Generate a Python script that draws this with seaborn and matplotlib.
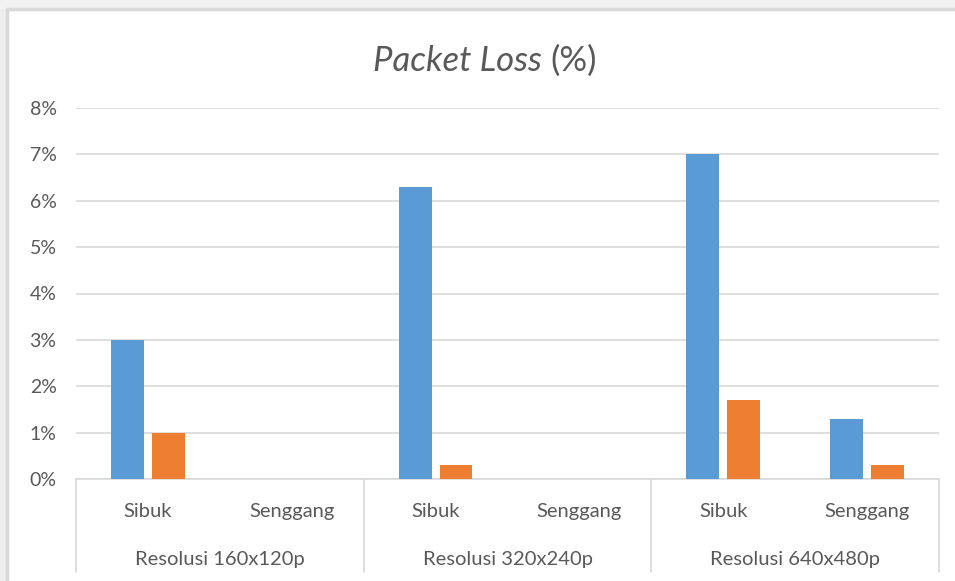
import matplotlib
matplotlib.use("Agg")
import matplotlib.pyplot as plt
import matplotlib.transforms as mtransforms
from matplotlib.patches import Rectangle
from matplotlib.ticker import FuncFormatter, MultipleLocator
import pandas as pd
import seaborn as sns

# ---- data -------------------------------------------------------------
resolutions = ["Resolusi 160x120p", "Resolusi 320x240p", "Resolusi 640x480p"]
conditions = ["Sibuk", "Senggang"]
series_names = ["Seri 1", "Seri 2"]
# packet loss in percent, ordered resolution -> condition
series_1 = [3.0, 0.0, 6.3, 0.0, 7.0, 1.3]
series_2 = [1.0, 0.0, 0.3, 0.0, 1.7, 0.3]

blue = "#5B9BD5"
orange = "#ED7D31"
text_gray = "#595959"
line_gray = "#D9D9D9"

rows = []
keys = []
i = 0
for res in resolutions:
    for cond in conditions:
        key = f"{res}|{cond}"
        keys.append(key)
        rows.append({"slot": key, "series": series_names[0], "value": series_1[i]})
        rows.append({"slot": key, "series": series_names[1], "value": series_2[i]})
        i += 1
df = pd.DataFrame(rows)

# ---- figure -----------------------------------------------------------
sns.set_theme(style="white")
plt.rcParams["font.family"] = ["Lato", "DejaVu Sans"]

W, H = 955, 581
fig = plt.figure(figsize=(W / 100, H / 100), dpi=100)
fig.patch.set_facecolor("white")
# light gray margin on the left and top, then the chart frame lines
fig.patches.append(Rectangle((0, 0), 7 / W, 1, transform=fig.transFigure,
                             facecolor="#EEEEEE", edgecolor="none", zorder=-6))
fig.patches.append(Rectangle((0, 1 - 9 / H), 1, 9 / H, transform=fig.transFigure,
                             facecolor="#F2F2F2", edgecolor="none", zorder=-6))
fig.add_artist(plt.Line2D([7 / W, 7 / W], [0, 1 - 9 / H], transform=fig.transFigure,
                          color=line_gray, linewidth=2.5, zorder=-5))
fig.add_artist(plt.Line2D([7 / W, 1], [1 - 9 / H, 1 - 9 / H], transform=fig.transFigure,
                          color=line_gray, linewidth=2.5, zorder=-5))

ax_left, ax_right = 76 / W, 939 / W
ax_bottom, ax_top = (H - 479) / H, (H - 108) / H
ax = fig.add_axes([ax_left, ax_bottom, ax_right - ax_left, ax_top - ax_bottom])
ax.set_zorder(2)
ax.set_facecolor("none")

sns.barplot(data=df, x="slot", y="value", hue="series", order=keys,
            hue_order=series_names, palette=[blue, orange], width=0.567,
            gap=0.195, saturation=1, legend=False, linewidth=0,
            ax=ax, zorder=3)

ax.set_ylim(0, 8)
ax.set_xlim(-0.5, len(keys) - 0.5)
ax.yaxis.set_major_locator(MultipleLocator(1))
ax.yaxis.set_major_formatter(FuncFormatter(lambda v, p: f"{v:.0f}%"))
ax.grid(axis="y", color=line_gray, linewidth=1.2, zorder=0)
ax.set_axisbelow(True)

for side in ["top", "right", "left"]:
    ax.spines[side].set_visible(False)
ax.spines["bottom"].set_color(line_gray)
ax.spines["bottom"].set_linewidth(1.2)

ax.set_xlabel("")
ax.set_ylabel("")
ax.set_xticks(range(len(keys)))
ax.set_xticklabels([k.split("|")[1] for k in keys])
ax.tick_params(axis="x", length=0, pad=17, labelsize=14.5, labelcolor=text_gray)
ax.tick_params(axis="y", length=0, pad=14, labelsize=14, labelcolor=text_gray)
for lbl in ax.get_yticklabels():
    lbl.set_horizontalalignment("right")

# group separators and group labels of the two-level category axis
trans = mtransforms.blended_transform_factory(ax.transData, ax.transAxes)
ax_h = 479 - 108
sep_bottom = -(572 - 479) / ax_h
for x in [-0.5, 1.5, 3.5, 5.5]:
    ax.plot([x, x], [0, sep_bottom], transform=trans, color=line_gray,
            linewidth=1.2, clip_on=False)
for g, res in enumerate(resolutions):
    ax.text(2 * g + 0.5, -(560 - 479) / ax_h, res, transform=trans,
            ha="center", va="center", fontsize=14.5, color=text_gray)

# title: italic measure name followed by upright unit
fig.text(542 / W, 1 - 61 / H, "Packet Loss", ha="right", va="center",
         fontsize=25, style="italic", color=text_gray)
fig.text(550 / W, 1 - 61 / H, "(%)", ha="left", va="center",
         fontsize=25, color=text_gray)

fig.savefig("out.png", dpi=100, facecolor=fig.get_facecolor())
